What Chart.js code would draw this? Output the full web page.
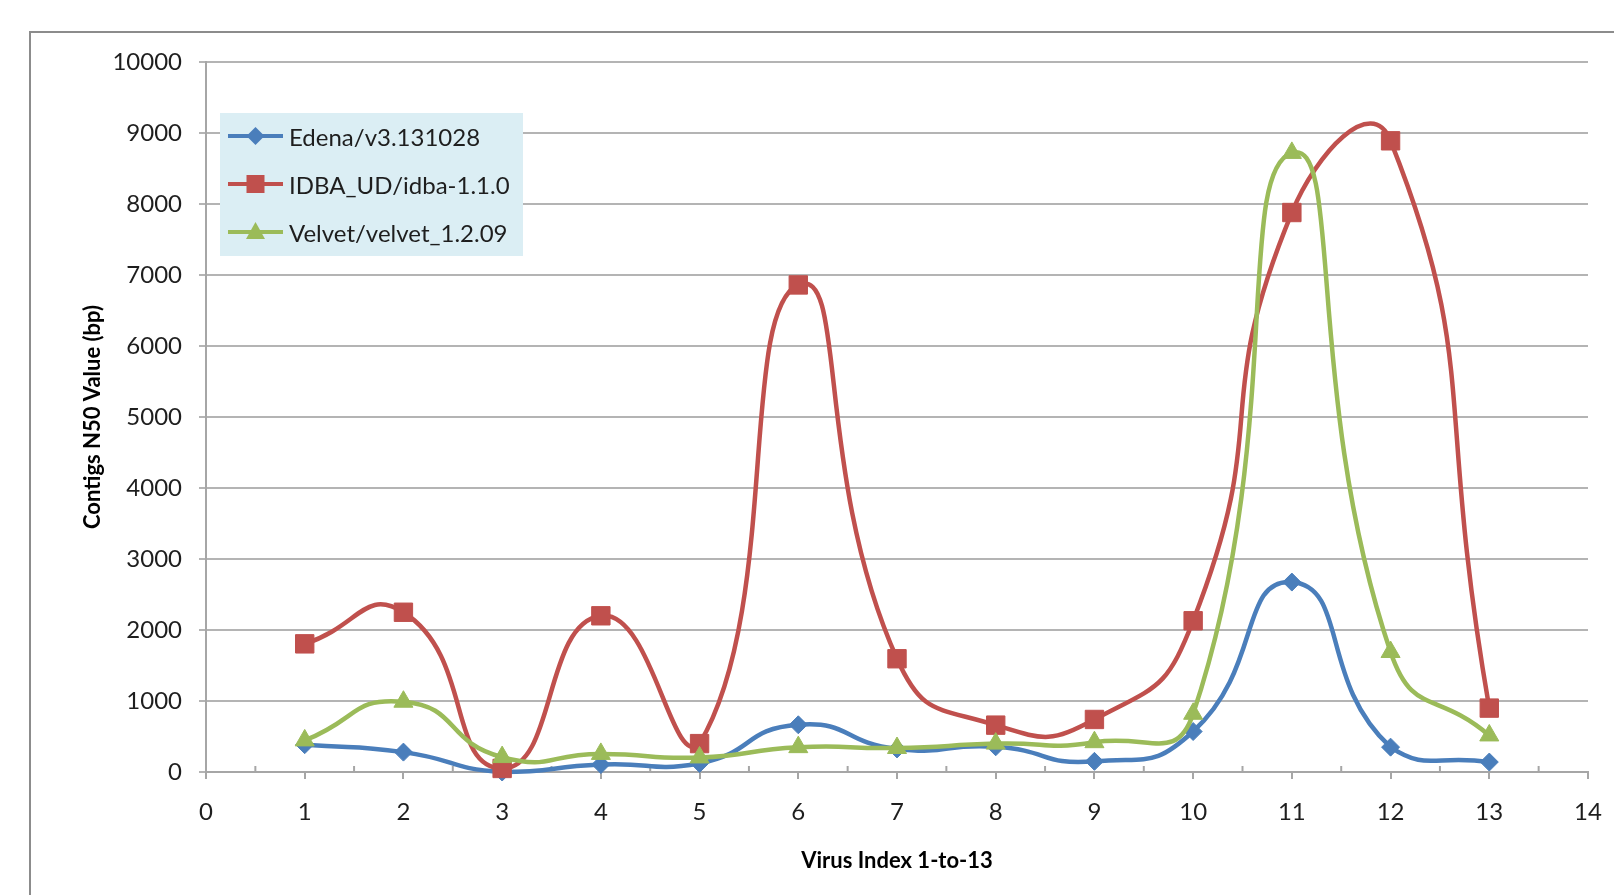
<!DOCTYPE html>
<html>
<head>
<meta charset="utf-8">
<script src="https://cdn.jsdelivr.net/npm/chart.js@4.4.1/dist/chart.umd.min.js"></script>
<style>
  html, body { margin: 0; padding: 0; background: #fff; overflow: hidden; }
  #wrap { position: relative; width: 1614px; height: 895px; }
  .frame { position: absolute; left: 29px; top: 31px; width: 1700px; height: 1000px; border: 2px solid #8c8c8c; }
  #chart { position: absolute; left: 0; top: 0; }
  .legend { position: absolute; left: 220px; top: 113px; width: 303px; height: 143px; background: #dbeef4; }
  .legend .row { position: absolute; left: 8px; height: 32px; display: flex; align-items: center;
    font-family: Lato, sans-serif; font-size: 24px; color: #1e1e1e; }
  .legend canvas { margin-right: 6px; }
</style>
</head>
<body>
<div id="wrap">
  <div class="frame"></div>
  <canvas id="chart" width="1614" height="895"></canvas>
  <div class="legend" id="legend"></div>
</div>
<script>
// data
const virusIndex = [1, 2, 3, 4, 5, 6, 7, 8, 9, 10, 11, 12, 13];
const edena = [385, 280, 0, 105, 120, 665, 325, 355, 150, 570, 2675, 350, 140];
const idba = [1805, 2250, 50, 2200, 400, 6860, 1595, 660, 740, 2130, 7880, 8890, 900];
const velvet = [445, 990, 210, 255, 205, 350, 338, 400, 420, 820, 8720, 1690, 515];

const seriesNames = ["Edena/v3.131028", "IDBA_UD/idba-1.1.0", "Velvet/velvet_1.2.09"];
const seriesColors = ["#4a7ebb", "#c0504d", "#9bbb59"];
const markers = ["rectRot", "rect", "triangle"];
const markerSizes = [9, 13, 11];

const toPoints = (vals) => vals.map((v, i) => ({ x: virusIndex[i], y: v }));

function makeDataset(i, vals, order) {
  return {
    label: seriesNames[i],
    data: toPoints(vals),
    borderColor: seriesColors[i],
    backgroundColor: seriesColors[i],
    borderWidth: 4.5,
    tension: 0.55,
    pointStyle: markers[i],
    pointRadius: markerSizes[i],
    pointBorderWidth: 1,
    pointBackgroundColor: seriesColors[i],
    pointBorderColor: seriesColors[i],
    clip: false,
    order: order,
  };
}

// small ticks between the numbers on the x axis
const minorTicks = {
  id: "minorTicks",
  beforeDatasetsDraw(chart) {
    const x = chart.scales.x;
    const ctx = chart.ctx;
    const y0 = chart.chartArea.bottom;
    ctx.save();
    ctx.strokeStyle = "#a6a6a6";
    ctx.lineWidth = 2;
    for (let i = 0; i < 14; i++) {
      const px = x.getPixelForValue(i + 0.5);
      ctx.beginPath();
      ctx.moveTo(px, y0);
      ctx.lineTo(px, y0 - 6);
      ctx.stroke();
    }
    ctx.restore();
  },
};

const tickFont = { family: "Lato", size: 24 };
const titleFont = { family: "Lato", size: 22, weight: "bold" };

new Chart(document.getElementById("chart"), {
  type: "line",
  data: {
    datasets: [makeDataset(0, edena, 3), makeDataset(1, idba, 2), makeDataset(2, velvet, 1)],
  },
  options: {
    responsive: false,
    animation: false,
    layout: { padding: { left: 80, top: 62, right: 26, bottom: 21 } },
    plugins: { legend: { display: false }, tooltip: { enabled: false } },
    scales: {
      x: {
        type: "linear",
        min: 0,
        max: 14,
        afterFit: (s) => {
          s.height = 102;
          s.paddingLeft = 0;
          s.paddingRight = 0;
        },
        ticks: { stepSize: 1, font: tickFont, color: "#1e1e1e", padding: 19 },
        grid: { drawOnChartArea: false, drawTicks: true, tickLength: 7, color: "#a6a6a6", lineWidth: 2 },
        border: { color: "#a6a6a6", width: 2 },
        title: { display: true, text: "Virus Index 1-to-13", font: titleFont, color: "#000", padding: 0 },
      },
      y: {
        min: 0,
        max: 10000,
        afterFit: (s) => { s.width = 126; },
        ticks: { stepSize: 1000, font: tickFont, color: "#1e1e1e", padding: 17, callback: (v) => String(v) },
        grid: { tickLength: 7, color: "#b4b4b4", lineWidth: 2 },
        border: { color: "#a6a6a6", width: 2 },
        title: { display: true, text: "Contigs N50 Value (bp)", font: titleFont, color: "#000", padding: 0 },
      },
    },
  },
  plugins: [minorTicks],
});

// legend: line with marker, like the original
const legend = document.getElementById("legend");
const rowTops = [7, 55, 103];
seriesNames.forEach((name, i) => {
  const row = document.createElement("div");
  row.className = "row";
  row.style.top = rowTops[i] + "px";
  const c = document.createElement("canvas");
  c.width = 55;
  c.height = 32;
  const g = c.getContext("2d");
  g.strokeStyle = seriesColors[i];
  g.fillStyle = seriesColors[i];
  g.lineWidth = 4;
  g.beginPath();
  g.moveTo(0, 16);
  g.lineTo(55, 16);
  g.stroke();
  g.beginPath();
  if (i === 0) {
    g.moveTo(27.5, 7); g.lineTo(36.5, 16); g.lineTo(27.5, 25); g.lineTo(18.5, 16);
  } else if (i === 1) {
    g.rect(18.5, 7, 18, 18);
  } else {
    g.moveTo(27.5, 6); g.lineTo(37, 23); g.lineTo(18, 23);
  }
  g.closePath();
  g.fill();
  row.appendChild(c);
  const t = document.createElement("span");
  t.textContent = name;
  row.appendChild(t);
  legend.appendChild(row);
});
</script>
</body>
</html>
